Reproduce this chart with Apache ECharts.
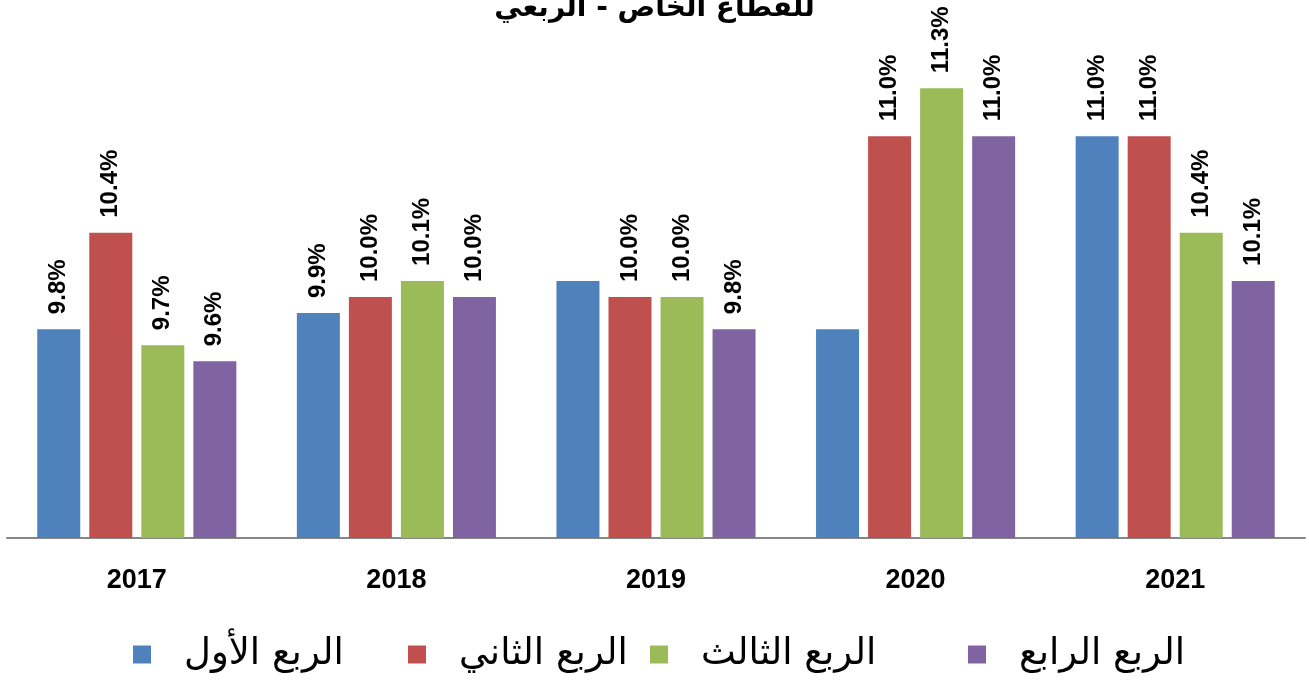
<!DOCTYPE html>
<html><head><meta charset="utf-8">
<script src="https://cdn.jsdelivr.net/npm/echarts@6/dist/echarts.min.js"></script>
<style>html,body{margin:0;padding:0;background:#fff}#c{width:1309px;height:682px}</style>
</head><body><div id="c"></div>
<script>
const categories = ['2017', '2018', '2019', '2020', '2021'];
const seriesNames = ['الربع الأول', 'الربع الثاني', 'الربع الثالث', 'الربع الرابع'];
const q1 = [9.8, 9.9, 10.1, 9.8, 11.0];
const q2 = [10.4, 10.0, 10.0, 11.0, 11.0];
const q3 = [9.7, 10.1, 10.0, 11.3, 10.4];
const q4 = [9.6, 10.0, 9.8, 11.0, 10.1];
// labels hidden in the reference for these points
const q1Hidden = [false, false, true, true, false];
const titleText = 'للقطاع الخاص - الربعي';

const colors = ['#4F81BD', '#C0504D', '#9BBB59', '#8064A2'];
const allData = [q1, q2, q3, q4];

const chart = echarts.init(document.getElementById('c'));
const legendLefts = [133, 408, 650, 968];

const series = allData.map((arr, si) => ({
  name: seriesNames[si],
  type: 'bar',
  barWidth: 43,
  barGap: '21%',
  itemStyle: { color: colors[si] },
  label: {
    show: true,
    position: 'top',
    rotate: 90,
    align: 'left',
    verticalAlign: 'middle',
    distance: 15,
    fontFamily: 'Liberation Sans',
    fontWeight: 'bold',
    fontSize: 24,
    color: '#000',
    formatter: p => p.value.toFixed(1) + '%'
  },
  data: arr.map((v, i) => (si === 0 && q1Hidden[i]) ? { value: v, label: { show: false } } : v)
}));

chart.setOption({
  animation: false,
  title: {
    text: titleText,
    left: 'center',
    top: -10,
    textStyle: { fontFamily: 'DejaVu Sans', fontWeight: 'bold', fontSize: 28, color: '#000' }
  },
  legend: seriesNames.map((n, i) => ({
    data: [n],
    left: legendLefts[i],
    top: 636,
    padding: 0,
    itemWidth: 18,
    itemHeight: 18,
    icon: 'rect',
    textStyle: { fontFamily: 'DejaVu Sans', fontSize: 37, color: '#000', padding: [0, 0, 0, 28] }
  })),
  grid: { left: 7, right: 4, top: 56, bottom: 144, containLabel: false },
  xAxis: {
    type: 'category',
    data: categories,
    axisLine: { lineStyle: { color: '#868686', width: 2 } },
    axisTick: { show: false },
    axisLabel: { margin: 29, fontFamily: 'Liberation Sans', fontWeight: 'bold', fontSize: 27, color: '#000' }
  },
  yAxis: {
    type: 'value',
    min: 8.5,
    max: 11.5,
    show: false,
    splitLine: { show: false }
  },
  series: series
});
</script>
</body></html>
